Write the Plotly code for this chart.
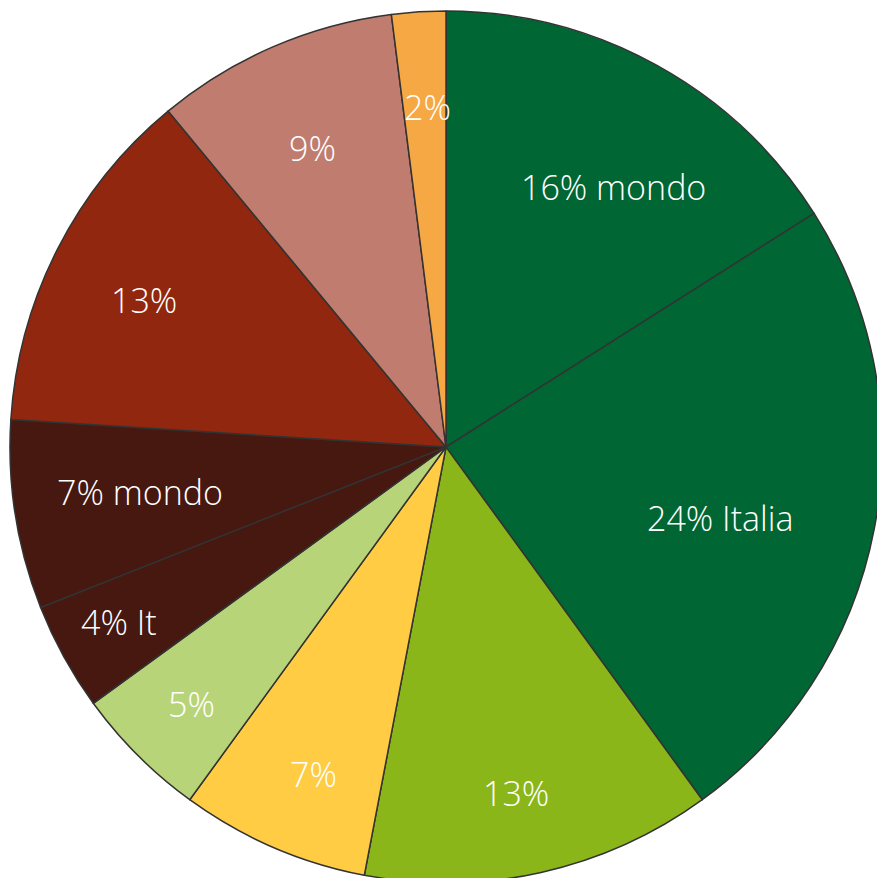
import math
import plotly.graph_objects as go

labels = ["16% mondo", "24% Italia", "13%", "7%", "5%", "4% It", "7% mondo", "13%", "9%", "2%"]
ids = ["a", "b", "c", "d", "e", "f", "g", "h", "i", "j"]
values = [16, 24, 13, 7, 5, 4, 7, 13, 9, 2]
colors = ["#006633", "#006633", "#8AB61A", "#FFCC44", "#B8D478",
          "#46180F", "#46180F", "#92270F", "#C07D6F", "#F5A843"]

# label placement style: fraction of radius and angular nudge (degrees)
label_r = [0.71, 0.65, 0.81, 0.81, 0.83, 0.85, 0.71, 0.77, 0.75, 0.78]
label_shift = [3.9, 3.7, 1.1, -1.3, -0.2, 0.7, 0.6, -1.0, -0.6, 0.4]

fig = go.Figure(go.Pie(
    ids=ids,
    labels=ids,
    values=values,
    textinfo="none",
    sort=False,
    direction="clockwise",
    rotation=0,
    marker=dict(colors=colors, line=dict(color="#333333", width=1.5)),
    showlegend=False,
    hoverinfo="skip",
))

total = sum(values)
cum = 0
for lab, v, fr, sh in zip(labels, values, label_r, label_shift):
    mid = (cum + v / 2) / total * 360 + sh
    cum += v
    th = math.radians(mid)
    fig.add_annotation(
        x=0.5 + 0.5 * fr * math.sin(th),
        y=0.5 + 0.5 * fr * math.cos(th),
        xref="paper", yref="paper",
        text=lab, showarrow=False,
        xanchor="center", yanchor="middle",
        font=dict(family="Open Sans", size=34, color="white", weight=300),
    )

fig.update_layout(
    width=882, height=883,
    margin=dict(l=10, t=11, r=0, b=0),
    paper_bgcolor="white",
)
fig.write_html("out.html", post_script="document.body.style.overflow='hidden';document.documentElement.style.overflow='hidden';")
